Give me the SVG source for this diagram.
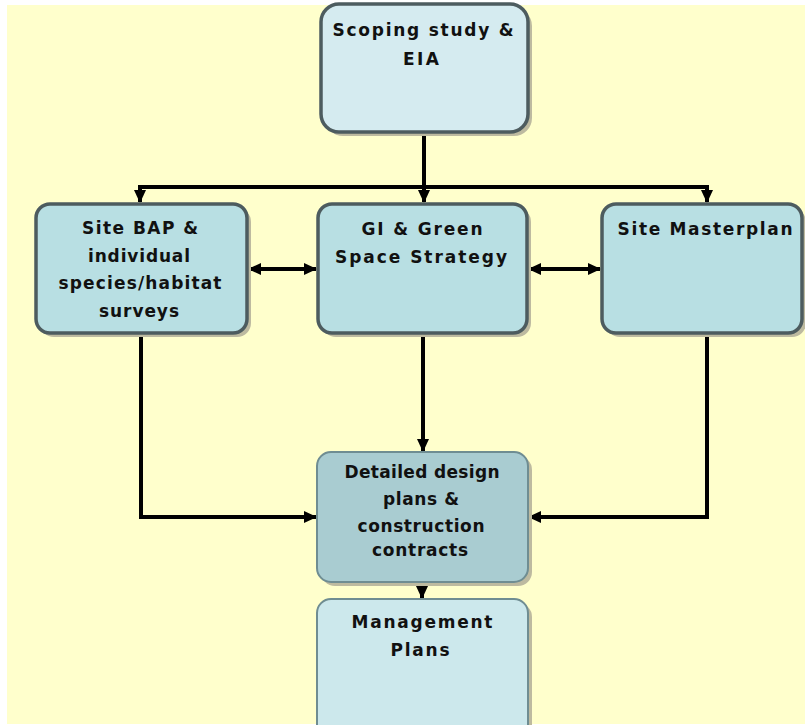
<svg xmlns="http://www.w3.org/2000/svg" width="805" height="725" viewBox="0 0 805 725">
<style>
.shadow{fill:#bdbaa0;}
.box{stroke:#4d5c5f;stroke-width:3.5;}
.box2{stroke:#6f8d92;stroke-width:2;}
.t{font-family:"DejaVu Sans","Liberation Sans",sans-serif;font-weight:bold;font-size:17px;fill:#111;text-anchor:middle;}
.c{fill:none;stroke:#000;stroke-width:4;}
</style>
<defs>
<marker id="ah" markerUnits="userSpaceOnUse" markerWidth="14" markerHeight="12" refX="12" refY="6" orient="auto-start-reverse">
<path d="M0,0 L13,6 L0,12 z" fill="#000"/>
</marker>
</defs>
<rect x="0" y="0" width="805" height="725" fill="#ffffff"/>
<rect x="7" y="5" width="798" height="719" fill="#ffffcc"/>

<g id="connectors">
<path class="c" d="M424,135 V187"/>
<path class="c" d="M140,187 H709"/>
<path class="c" d="M140,185 V202" marker-end="url(#ah)"/>
<path class="c" d="M424,187 V202" marker-end="url(#ah)"/>
<path class="c" d="M707,185 V202" marker-end="url(#ah)"/>
<path class="c" d="M249,269 H316" marker-start="url(#ah)" marker-end="url(#ah)"/>
<path class="c" d="M529,269 H600" marker-start="url(#ah)" marker-end="url(#ah)"/>
<path class="c" d="M423,334 V451" marker-end="url(#ah)"/>
<path class="c" d="M422,583 V598" marker-end="url(#ah)"/>
<path class="c" d="M141,334 V517 H316" marker-end="url(#ah)"/>
<path class="c" d="M707,334 V517 H529" marker-end="url(#ah)"/>
</g>

<g id="scoping">
<rect class="shadow" x="325" y="8" width="207" height="128" rx="18"/>
<rect class="box" x="321" y="4" width="207" height="128" rx="18" fill="#d5ebf0"/>
<text class="t" x="423" y="36" textLength="181" lengthAdjust="spacing">Scoping study &amp;</text>
<text class="t" x="421" y="65" textLength="36" lengthAdjust="spacing">EIA</text>
</g>

<g id="sitebap">
<rect class="shadow" x="40" y="208" width="211" height="129" rx="14"/>
<rect class="box" x="36" y="204" width="211" height="129" rx="14" fill="#b8dfe3"/>
<text class="t" x="140" y="234" textLength="116" lengthAdjust="spacing">Site BAP &amp;</text>
<text class="t" x="139" y="262" textLength="102" lengthAdjust="spacing">individual</text>
<text class="t" x="140" y="289" textLength="163" lengthAdjust="spacing">species/habitat</text>
<text class="t" x="139" y="317" textLength="80" lengthAdjust="spacing">surveys</text>
</g>

<g id="gi">
<rect class="shadow" x="322" y="208" width="209" height="129" rx="14"/>
<rect class="box" x="318" y="204" width="209" height="129" rx="14" fill="#b8dfe3"/>
<text class="t" x="422" y="235" textLength="121" lengthAdjust="spacing">GI &amp; Green</text>
<text class="t" x="421" y="263" textLength="172" lengthAdjust="spacing">Space Strategy</text>
</g>

<g id="masterplan">
<rect class="shadow" x="606" y="208" width="200" height="129" rx="14"/>
<rect class="box" x="602" y="204" width="200" height="129" rx="14" fill="#b8dfe3"/>
<text class="t" x="705" y="235" textLength="175" lengthAdjust="spacing">Site Masterplan</text>
</g>

<g id="detailed">
<rect class="shadow" x="321" y="456" width="211" height="130" rx="14"/>
<rect class="box2" x="317" y="452" width="211" height="130" rx="14" fill="#a9ccd1"/>
<text class="t" x="422" y="478" textLength="155" lengthAdjust="spacing">Detailed design</text>
<text class="t" x="421" y="505" textLength="76" lengthAdjust="spacing">plans &amp;</text>
<text class="t" x="421" y="532" textLength="127" lengthAdjust="spacing">construction</text>
<text class="t" x="420" y="556" textLength="96" lengthAdjust="spacing">contracts</text>
</g>

<g id="management">
<rect class="shadow" x="321" y="603" width="211" height="140" rx="14"/>
<rect class="box2" x="317" y="599" width="211" height="140" rx="14" fill="#cce8ec"/>
<text class="t" x="422" y="628" textLength="141" lengthAdjust="spacing">Management</text>
<text class="t" x="420" y="656" textLength="59" lengthAdjust="spacing">Plans</text>
</g>
</svg>
